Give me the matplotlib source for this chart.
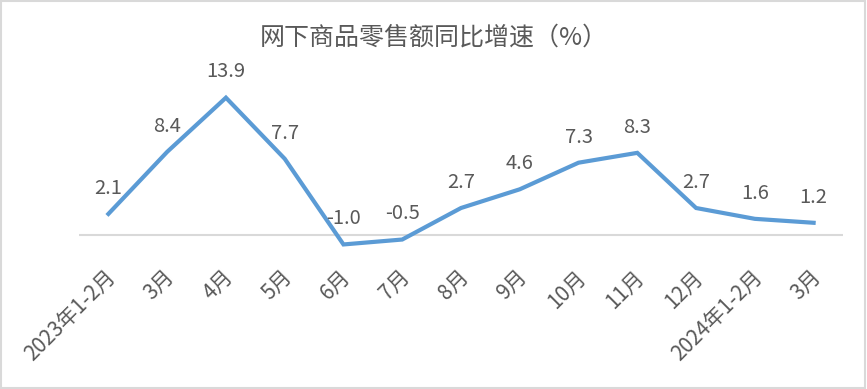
import matplotlib
matplotlib.use('Agg')
import matplotlib.pyplot as plt
import matplotlib.transforms as mtrans
from matplotlib.patches import Rectangle

plt.rcParams['font.family'] = ['Noto Sans CJK SC', 'DejaVu Sans']

# dados
meses = ['2023年1-2月', '3月', '4月', '5月', '6月', '7月', '8月', '9月',
         '10月', '11月', '12月', '2024年1-2月', '3月']
valores = [2.1, 8.4, 13.9, 7.7, -1.0, -0.5, 2.7, 4.6, 7.3, 8.3, 2.7, 1.6, 1.2]

cor_linha = '#5B9BD5'
cor_texto = '#595959'

fig = plt.figure(figsize=(8.67, 3.89), dpi=100)
ax = fig.add_axes([79 / 867, 1 - 274 / 389, 764 / 867, 197 / 389])

x = list(range(len(meses)))
ax.plot(x, valores, color=cor_linha, linewidth=3, solid_joinstyle='miter', zorder=3)
ax.axhline(0, color='#D9D9D9', linewidth=1.5, zorder=1)

for xi, v in zip(x, valores):
    ax.annotate(f'{v:.1f}', (xi, v), xytext=(0, 18.5), textcoords='offset points',
                ha='center', va='center', fontsize=14.5, color=cor_texto)

ax.set_xlim(-0.5, len(meses) - 0.5)
ax.set_ylim(-4, 16)
ax.set_yticks([])
ax.set_xticks(x)
ax.set_xticklabels(meses, rotation=45, ha='right', rotation_mode='anchor',
                   fontsize=15, color=cor_texto)
ax.tick_params(axis='x', length=0, pad=0)
desloc = mtrans.ScaledTranslation(-4 / 100, 8 / 100, fig.dpi_scale_trans)
for lbl in ax.get_xticklabels():
    lbl.set_transform(lbl.get_transform() + desloc)
for s in ax.spines.values():
    s.set_visible(False)
ax.patch.set_alpha(0)

fig.text(0.5, 1 - 38 / 389, '网下商品零售额同比增速（%）', ha='center', va='center',
         fontsize=18, color=cor_texto)

# borda da figura
fig.patches.append(Rectangle((0.001, 0.002), 0.997, 0.995, transform=fig.transFigure,
                             fill=False, edgecolor='#D9D9D9', linewidth=1.5))

fig.savefig('out.png', dpi=100)
